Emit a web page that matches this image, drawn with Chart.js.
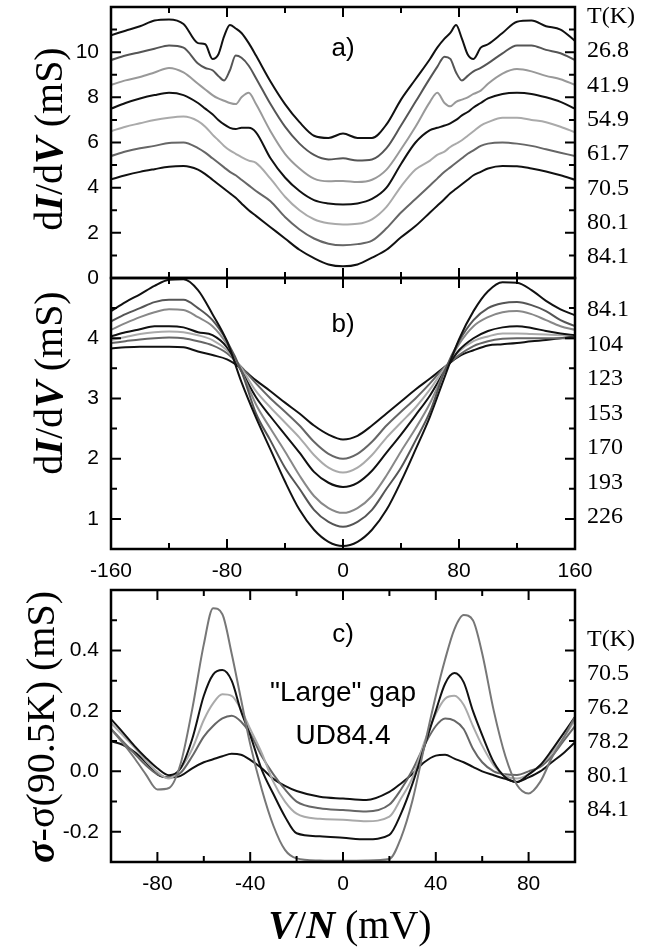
<!DOCTYPE html>
<html>
<head>
<meta charset="utf-8">
<script src="https://cdn.jsdelivr.net/npm/chart.js@4.4.1/dist/chart.umd.min.js"></script>
<style>
  body { margin: 0; background: #fff; }
  #wrap { position: relative; width: 657px; height: 950px; overflow: hidden; background: #fff; }
  #wrap canvas { position: absolute; left: 0; }
  .t { position: absolute; left: 587px; font-family: "Liberation Serif", serif; font-size: 24px; line-height: 1; color: #000; white-space: nowrap; }
  .pl { position: absolute; font-family: "Liberation Sans", Arial, sans-serif; line-height: 1; color: #000; white-space: nowrap; transform: translate(-50%, -50%); }
  .ttl { position: absolute; font-family: "Liberation Serif", serif; font-size: 40px; line-height: 1; color: #000; white-space: nowrap; transform: translate(-50%, -50%) rotate(-90deg); }
  .ttl b, .xt b { font-style: italic; }
  .xt { position: absolute; font-family: "Liberation Serif", serif; font-size: 40px; line-height: 1; color: #000; white-space: nowrap; transform: translate(-50%, -50%); }
</style>
</head>
<body>
<div id="wrap">
  <canvas id="ca" width="657" height="300" style="top:0px"></canvas>
  <canvas id="cb" width="657" height="320" style="top:270px"></canvas>
  <canvas id="cc" width="657" height="370" style="top:580px"></canvas>

  <div class="ttl" style="left:49px; top:139px">d<b>I</b>/d<b>V</b> (mS)</div>
  <div class="ttl" style="left:49px; top:383px">d<b>I</b>/d<b>V</b> (mS)</div>
  <div class="ttl" style="left:41px; top:727px"><b>σ</b>-σ(90.5K) (mS)</div>
  <div class="xt" style="left:350px; top:925px"><b>V</b>/<b>N</b> (mV)</div>

  <div class="pl" style="left:343px; top:47px; font-size:26px">a)</div>
  <div class="pl" style="left:343px; top:323px; font-size:26px">b)</div>
  <div class="pl" style="left:343px; top:633px; font-size:26px">c)</div>
  <div class="pl" style="left:343px; top:692px; font-size:28px">"Large" gap</div>
  <div class="pl" style="left:343px; top:735px; font-size:28px">UD84.4</div>
  <div id="labels"></div>
</div>
<script>
// panel a) dI/dV, T = 26.8 ... 84.1 K
const vA = [-160, -150, -140, -130, -120, -110, -100, -95, -90, -86, -82, -78, -74, -70, -65, -60, -50, -40, -30, -20, -10,
  0, 10, 20, 30, 40, 50, 60, 65, 70, 74, 78, 82, 86, 90, 95, 100, 110, 120, 130, 140, 150, 160];
const a268 = [10.75, 10.95, 11.15, 11.4, 11.45, 11.25, 10.4, 10.35, 9.7, 9.9, 10.7, 11.2, 11.05, 10.85, 10.4, 9.85, 8.7, 7.7, 6.9, 6.3, 6.2,
  6.4, 6.2, 6.2, 6.8, 7.9, 8.8, 9.7, 10.2, 10.6, 10.85, 11.2, 10.6, 9.9, 9.7, 10.2, 10.35, 10.85, 11.35, 11.4, 11.15, 11.0, 10.5];
const a419 = [9.65, 9.85, 10.0, 10.15, 10.3, 10.2, 9.5, 9.3, 9.2, 8.95, 8.75, 9.2, 9.85, 9.75, 9.4, 8.85, 7.7, 6.7, 5.95, 5.45, 5.25,
  5.3, 5.2, 5.25, 5.75, 6.75, 7.8, 8.85, 9.35, 9.8, 9.7, 9.1, 8.75, 8.95, 9.15, 9.3, 9.5, 9.95, 10.3, 10.3, 10.1, 9.95, 9.65];
const a549 = [8.55, 8.75, 8.9, 9.1, 9.3, 9.1, 8.6, 8.35, 8.1, 7.95, 7.85, 7.75, 7.7, 8.0, 8.2, 7.7, 6.5, 5.5, 4.85, 4.4, 4.28,
  4.3, 4.25, 4.35, 4.8, 5.7, 6.7, 7.8, 8.2, 7.75, 7.6, 7.8, 7.9, 8.0, 8.15, 8.3, 8.6, 9.05, 9.25, 9.15, 8.95, 8.8, 8.55];
const a617 = [7.5, 7.75, 7.95, 8.1, 8.2, 8.1, 7.75, 7.5, 7.25, 7.0, 6.8, 6.65, 6.6, 6.65, 6.65, 6.45, 5.3, 4.45, 3.85, 3.45, 3.3,
  3.25, 3.3, 3.5, 4.0, 5.05, 6.0, 6.55, 6.65, 6.75, 6.85, 7.0, 7.2, 7.35, 7.55, 7.75, 7.95, 8.15, 8.2, 8.15, 8.0, 7.8, 7.5];
const a705 = [6.5, 6.7, 6.85, 7.0, 7.1, 7.15, 6.95, 6.7, 6.35, 6.1, 5.85, 5.65, 5.5, 5.35, 5.2, 5.1, 4.4, 3.6, 3.0, 2.6, 2.42,
  2.37, 2.4, 2.6, 3.15, 4.05, 4.8, 5.2, 5.45, 5.6, 5.8, 5.95, 6.1, 6.3, 6.5, 6.75, 6.9, 7.1, 7.1, 7.0, 6.9, 6.7, 6.45];
const a801 = [5.4, 5.6, 5.75, 5.85, 5.98, 6.0, 5.75, 5.55, 5.3, 5.1, 4.9, 4.7, 4.55, 4.35, 4.1, 3.85, 3.4, 2.7, 2.15, 1.75, 1.52,
  1.45, 1.5, 1.65, 2.2, 2.9, 3.5, 4.1, 4.4, 4.7, 4.9, 5.1, 5.3, 5.5, 5.65, 5.85, 5.95, 6.0, 5.95, 5.85, 5.7, 5.55, 5.4];
const a841 = [4.37, 4.55, 4.7, 4.82, 4.93, 4.96, 4.8, 4.6, 4.35, 4.15, 3.95, 3.75, 3.55, 3.3, 3.0, 2.75, 2.25, 1.75, 1.25, 0.88, 0.6,
  0.52, 0.6, 0.9, 1.25, 1.8, 2.3, 2.9, 3.2, 3.5, 3.75, 3.95, 4.15, 4.35, 4.55, 4.7, 4.85, 4.96, 4.95, 4.85, 4.72, 4.55, 4.35];
const tempsA = ['T(K)', '26.8', '41.9', '54.9', '61.7', '70.5', '80.1', '84.1'];

// panel b) dI/dV, T = 84.1 ... 226 K
const vB = [-160, -150, -140, -130, -120, -110, -100, -90, -80, -70, -60, -50, -40, -30, -20, -10,
  0, 10, 20, 30, 40, 50, 60, 70, 80, 90, 100, 110, 120, 130, 140, 150, 160];
const b841 = [4.45, 4.6, 4.73, 4.87, 4.97, 4.98, 4.8, 4.4, 3.95, 3.27, 2.68, 2.15, 1.62, 1.15, 0.82, 0.62,
  0.55, 0.62, 0.82, 1.15, 1.62, 2.15, 2.7, 3.35, 3.98, 4.45, 4.78, 4.93, 4.92, 4.8, 4.62, 4.48, 4.38];
const b104 = [4.28, 4.4, 4.5, 4.6, 4.64, 4.64, 4.5, 4.3, 3.95, 3.45, 2.75, 2.3, 1.85, 1.5, 1.15, 0.95,
  0.87, 0.95, 1.15, 1.5, 1.85, 2.3, 2.78, 3.45, 3.95, 4.3, 4.5, 4.58, 4.6, 4.55, 4.45, 4.3, 4.2];
const b123 = [4.14, 4.25, 4.35, 4.43, 4.48, 4.47, 4.35, 4.2, 3.9, 3.45, 2.9, 2.5, 2.12, 1.72, 1.38, 1.18,
  1.1, 1.18, 1.38, 1.72, 2.12, 2.5, 2.92, 3.45, 3.9, 4.2, 4.35, 4.43, 4.45, 4.4, 4.3, 4.2, 4.14];
const b153 = [4.03, 4.1, 4.15, 4.2, 4.2, 4.18, 4.1, 4.05, 3.85, 3.45, 3.02, 2.7, 2.4, 2.1, 1.78, 1.6,
  1.53, 1.6, 1.8, 2.1, 2.4, 2.72, 3.05, 3.45, 3.8, 4.0, 4.12, 4.18, 4.2, 4.17, 4.12, 4.08, 4.05];
const b170 = [3.97, 4.02, 4.07, 4.1, 4.11, 4.1, 4.05, 3.97, 3.8, 3.5, 3.12, 2.85, 2.6, 2.35, 2.06, 1.85,
  1.77, 1.85, 2.06, 2.35, 2.6, 2.85, 3.15, 3.5, 3.78, 3.95, 4.03, 4.08, 4.08, 4.07, 4.06, 4.05, 4.05];
const b193 = [3.92, 3.95, 3.98, 4.0, 4.01, 4.0, 3.95, 3.88, 3.75, 3.52, 3.25, 3.0, 2.78, 2.55, 2.28, 2.08,
  2.0, 2.08, 2.28, 2.55, 2.78, 3.0, 3.25, 3.52, 3.72, 3.87, 3.95, 3.99, 4.0, 4.0, 4.0, 4.0, 4.0];
const b226 = [3.83, 3.85, 3.86, 3.86, 3.86, 3.85, 3.78, 3.72, 3.65, 3.5, 3.3, 3.12, 2.93, 2.75, 2.55, 2.4,
  2.32, 2.38, 2.55, 2.75, 2.95, 3.15, 3.33, 3.52, 3.7, 3.8, 3.88, 3.9, 3.92, 3.95, 3.97, 4.0, 4.03];
const tempsB = ['84.1', '104', '123', '153', '170', '193', '226'];

// panel c) sigma - sigma(90.5K), "Large" gap UD84.4
const vC = [-100, -95, -90, -85, -80, -75, -70, -65, -60, -56, -52, -48, -44, -40, -35, -30, -25, -20, -10,
  0, 10, 20, 25, 30, 35, 40, 44, 48, 52, 56, 60, 65, 70, 75, 80, 85, 90, 95, 100];
const c705 = [0.14, 0.095, 0.045, -0.01, -0.06, -0.055, 0.025, 0.205, 0.42, 0.54, 0.52, 0.39, 0.24, 0.09, -0.06, -0.18, -0.26, -0.288, -0.295,
  -0.296, -0.295, -0.29, -0.22, -0.095, 0.08, 0.25, 0.37, 0.47, 0.517, 0.5, 0.39, 0.2, 0.05, -0.045, -0.073, -0.035, 0.045, 0.11, 0.18];
const c762 = [0.173, 0.13, 0.085, 0.045, 0.01, -0.013, 0.01, 0.107, 0.25, 0.32, 0.335, 0.3, 0.2, 0.12, 0.005, -0.075, -0.15, -0.205, -0.215,
  -0.22, -0.225, -0.21, -0.14, -0.04, 0.08, 0.2, 0.29, 0.325, 0.295, 0.2, 0.12, 0.03, -0.02, -0.035, -0.01, 0.02, 0.07, 0.125, 0.18];
const c782 = [0.16, 0.12, 0.08, 0.035, -0.002, -0.024, 0.01, 0.074, 0.17, 0.225, 0.255, 0.25, 0.205, 0.14, 0.06, -0.035, -0.1, -0.14, -0.157,
  -0.16, -0.165, -0.15, -0.09, -0.02, 0.095, 0.19, 0.24, 0.25, 0.22, 0.15, 0.085, 0.02, -0.015, -0.024, -0.01, 0.02, 0.06, 0.11, 0.17];
const c801 = [0.14, 0.1, 0.06, 0.02, -0.01, -0.02, -0.005, 0.05, 0.115, 0.15, 0.175, 0.184, 0.165, 0.125, 0.05, -0.01, -0.06, -0.1, -0.122,
  -0.128, -0.133, -0.11, -0.06, 0.005, 0.085, 0.15, 0.175, 0.168, 0.14, 0.075, 0.03, 0.0, -0.01, -0.012, 0.0, 0.015, 0.05, 0.1, 0.15];
const c841 = [0.1, 0.088, 0.065, 0.03, -0.01, -0.02, -0.015, 0.01, 0.03, 0.04, 0.05, 0.058, 0.055, 0.038, 0.01, -0.025, -0.048, -0.065, -0.084,
  -0.09, -0.095, -0.068, -0.04, -0.008, 0.03, 0.052, 0.055, 0.042, 0.03, 0.015, 0.0, -0.013, -0.025, -0.035, -0.02, 0.0, 0.03, 0.06, 0.096];
const tempsC = ['T(K)', '70.5', '76.2', '78.2', '80.1', '84.1'];

// right-hand temperature columns (y centre of first row, row spacing)
function addTemps(list, y0, dy) {
  const box = document.getElementById('labels');
  list.forEach((s, i) => {
    const d = document.createElement('div');
    d.className = 't';
    d.textContent = s;
    d.style.top = (y0 + i * dy - 12) + 'px';
    box.appendChild(d);
  });
}
addTemps(tempsA, 15, 34.3);
addTemps(tempsB, 308, 34.5);
addTemps(tempsC, 638, 34);

// 안쪽으로 향하는 눈금 + 테두리
const inwardTicks = {
  id: 'inwardTicks',
  afterDatasetsDraw(chart, args, opts) {
    const { ctx, chartArea: a, scales } = chart;
    ctx.save();
    ctx.strokeStyle = '#000';
    ctx.lineWidth = 2;
    ['x', 'y'].forEach(k => {
      const s = scales[k], o = opts[k];
      const n = Math.round((s.max - s.min) / o.step);
      for (let i = 0; i <= n; i++) {
        const v = s.min + i * o.step;
        const r = v / o.major;
        const len = Math.abs(r - Math.round(r)) < 1e-6 ? opts.majorLen : opts.minorLen;
        const p = s.getPixelForValue(v);
        ctx.beginPath();
        if (k === 'x') {
          ctx.moveTo(p, a.top); ctx.lineTo(p, a.top + len);
          ctx.moveTo(p, a.bottom); ctx.lineTo(p, a.bottom - len);
        } else {
          ctx.moveTo(a.left, p); ctx.lineTo(a.left + len, p);
          ctx.moveTo(a.right, p); ctx.lineTo(a.right - len, p);
        }
        ctx.stroke();
      }
    });
    ctx.lineWidth = 2.5;
    ctx.strokeRect(a.left, a.top, a.right - a.left, a.bottom - a.top);
    ctx.restore();
  }
};

function series(xs, ys, color) {
  return {
    data: xs.map((x, i) => ({ x: x, y: ys[i] })),
    borderColor: color,
    borderWidth: 2,
    pointRadius: 0,
    fill: false,
    cubicInterpolationMode: 'monotone'
  };
}

const tickFont = { family: 'Liberation Sans', size: 21 };

function createChart(canvasId, datasets, o) {
  const ctx = document.getElementById(canvasId).getContext('2d');
  return new Chart(ctx, {
    type: 'line',
    data: { datasets: datasets },
    plugins: [inwardTicks],
    options: {
      responsive: false,
      animation: false,
      devicePixelRatio: 1,
      layout: { padding: o.padding },
      plugins: {
        legend: { display: false },
        tooltip: { enabled: false },
        inwardTicks: { x: o.xTicks, y: o.yTicks, majorLen: 10, minorLen: 6 }
      },
      scales: {
        x: {
          type: 'linear',
          min: o.xMin, max: o.xMax,
          display: o.xLabels !== null,
          grid: { drawOnChartArea: false, drawTicks: false },
          border: { display: false },
          ticks: {
            stepSize: o.xTicks.step, autoSkip: false, maxRotation: 0, minRotation: 0,
            padding: 10, color: '#000', font: tickFont,
            callback: o.xLabels || (() => '')
          },
          afterFit(s) { s.height = o.xHeight || 0; s.paddingLeft = 0; s.paddingRight = 0; }
        },
        y: {
          type: 'linear',
          min: o.yMin, max: o.yMax,
          grid: { drawOnChartArea: false, drawTicks: false },
          border: { display: false },
          ticks: {
            stepSize: o.yTicks.step, autoSkip: false,
            padding: 12, color: '#000', font: tickFont,
            callback: o.yLabels
          },
          afterFit(s) { s.width = 111; s.paddingTop = 0; s.paddingBottom = 0; }
        }
      }
    }
  });
}

createChart('ca', [
  series(vA, a268, '#111'),
  series(vA, a419, '#555'),
  series(vA, a549, '#999'),
  series(vA, a617, '#111'),
  series(vA, a705, '#aaa'),
  series(vA, a801, '#666'),
  series(vA, a841, '#111')
], {
  padding: { left: 0, right: 82, top: 7, bottom: 22 },
  xMin: -160, xMax: 160, xTicks: { step: 40, major: 80 }, xLabels: null,
  yMin: 0, yMax: 12, yTicks: { step: 1, major: 2 },
  yLabels: v => (v % 2 === 0 && v <= 10) ? String(v) : ''
});

createChart('cb', [
  series(vB, b841, '#111'),
  series(vB, b104, '#555'),
  series(vB, b123, '#888'),
  series(vB, b153, '#111'),
  series(vB, b170, '#aaa'),
  series(vB, b193, '#666'),
  series(vB, b226, '#111')
], {
  padding: { left: 0, right: 82, top: 8, bottom: 0 },
  xMin: -160, xMax: 160, xTicks: { step: 40, major: 80 }, xHeight: 41,
  xLabels: v => (v % 80 === 0) ? String(v) : '',
  yMin: 0.5, yMax: 5, yTicks: { step: 0.5, major: 1 },
  yLabels: v => (Number.isInteger(v) && v >= 1 && v <= 4) ? String(v) : ''
});

createChart('cc', [
  series(vC, c705, '#777'),
  series(vC, c762, '#111'),
  series(vC, c782, '#aaa'),
  series(vC, c801, '#666'),
  series(vC, c841, '#111')
], {
  padding: { left: 0, right: 82, top: 10, bottom: 0 },
  xMin: -100, xMax: 100, xTicks: { step: 20, major: 40 }, xHeight: 88,
  xLabels: v => (v % 40 === 0 && Math.abs(v) <= 80) ? String(v) : '',
  yMin: -0.3, yMax: 0.6, yTicks: { step: 0.1, major: 0.2 },
  yLabels: v => {
    const r = Math.round(v * 10);
    return (r % 2 === 0 && r >= -2 && r <= 4) ? (r / 10).toFixed(1) : '';
  }
});
</script>
</body>
</html>
